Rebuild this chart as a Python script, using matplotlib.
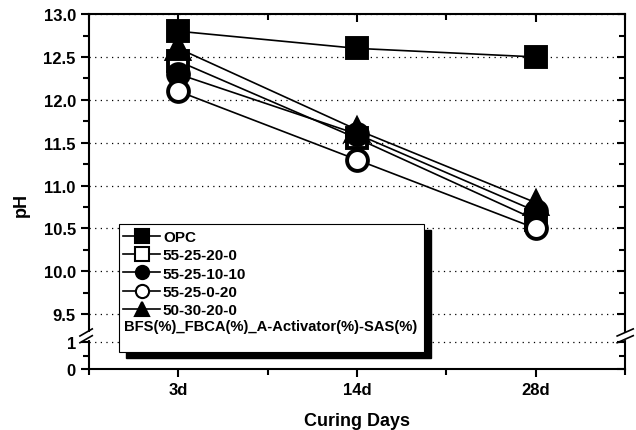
import matplotlib.pyplot as plt
import numpy as np
from matplotlib.lines import Line2D
from matplotlib.patches import Rectangle

plt.rcParams['font.family'] = ['Liberation Sans', 'DejaVu Sans']
plt.rcParams['font.weight'] = 'bold'

days = ['3d', '14d', '28d']
opc = [12.8, 12.6, 12.5]
s55_25_20_0 = [12.45, 11.55, 10.6]
s55_25_10_10 = [12.3, 11.6, 10.7]
s55_25_0_20 = [12.1, 11.3, 10.5]
s50_30_20_0 = [12.6, 11.65, 10.8]

yticks = [0, 1, 9.5, 10.0, 10.5, 11.0, 11.5, 12.0, 12.5, 13.0]
ytick_labels = ['0', '1', '9.5', '10.0', '10.5', '11.0', '11.5', '12.0', '12.5', '13.0']
yminor = [0.5, 9.75, 10.25, 10.75, 11.25, 11.75, 12.25, 12.75]

# broken y axis: 0..1 squeezed, gap, then 9.5..13
a = 0.314
g = 0.326

def fwd(y):
    y = np.asarray(y, dtype=float)
    return np.where(y <= 1, y * a,
                    np.where(y < 9.5, a + (y - 1) / 8.5 * g, a + g + (y - 9.5)))

def inv(v):
    v = np.asarray(v, dtype=float)
    return np.where(v <= a, v / a,
                    np.where(v < a + g, 1 + (v - a) / g * 8.5, v - a - g + 9.5))

fig = plt.figure(figsize=(6.36, 4.31), dpi=100)
ax = fig.add_axes([0.140, 0.1415, 0.843, 0.8235])
ax.set_yscale('function', functions=(fwd, inv))

x = np.arange(1, len(days) + 1)
series = [
    (opc, 's', 'k', 'OPC'),
    (s55_25_20_0, 's', 'w', '55-25-20-0'),
    (s55_25_10_10, 'o', 'k', '55-25-10-10'),
    (s55_25_0_20, 'o', 'w', '55-25-0-20'),
    (s50_30_20_0, '^', 'k', '50-30-20-0'),
]
handles = []
for vals, m, fc, lab in series:
    ms = 15 if m != '^' else 16
    ax.plot(x, vals, color='k', lw=1.2, marker=m, ms=ms, mfc=fc, mec='k', mew=2.8, zorder=3)
    handles.append(Line2D([], [], color='k', lw=1.2, marker=m, ms=9.5, mfc=fc, mec='k', mew=1.5))

ax.set_xlim(0.5, 3.5)
ax.set_ylim(0, 13)
ax.set_xticks(x)
ax.set_xticklabels(days)
ax.set_xticks([0.5, 1.5, 2.5, 3.5], minor=True)
ax.set_yticks(yticks)
ax.set_yticklabels(ytick_labels)
ax.set_yticks(yminor, minor=True)

ax.grid(axis='y', which='major', color='k', linestyle=(0, (1, 3.5)), lw=0.9)
for sp in ax.spines.values():
    sp.set_linewidth(1.5)
ax.tick_params(which='both', labelsize=12, width=1.5, top=True, right=True)
ax.tick_params(which='major', direction='out', length=6)
ax.tick_params(which='minor', direction='out', length=4)
for t in ax.xaxis.get_ticklines(minor=False)[1::2] + ax.xaxis.get_ticklines(minor=True)[1::2]:
    t.set_marker(3)
for t in ax.yaxis.get_ticklines(minor=False)[1::2] + ax.yaxis.get_ticklines(minor=True)[1::2]:
    t.set_marker(0)

ax.set_xlabel('Curing Days', fontsize=13, fontweight='bold', labelpad=11)
ax.set_ylabel('pH', fontsize=13, fontweight='bold')
ax.yaxis.set_label_coords(-0.11, 0.465)

# legend box with black shadow
ax.add_patch(Rectangle((0.069, 0.031), 0.569, 0.36, transform=ax.transAxes,
                       facecolor='k', edgecolor='k', zorder=5, clip_on=False))
ax.add_patch(Rectangle((0.056, 0.048), 0.569, 0.36, transform=ax.transAxes,
                       facecolor='w', edgecolor='k', lw=0.8, zorder=6, clip_on=False))
leg = ax.legend(handles, [s[3] for s in series], loc='upper left',
                bbox_to_anchor=(0.058, 0.40), frameon=False, fontsize=11,
                handlelength=2.4, handletextpad=0.2, labelspacing=0.28,
                borderpad=0.2, borderaxespad=0)
leg.set_zorder(7)
ax.text(0.066, 0.121, 'BFS(%)_FBCA(%)_A-Activator(%)-SAS(%)', transform=ax.transAxes,
        fontsize=10.6, fontweight='bold', va='center', ha='left', zorder=8)

# break marks
for xs in [(-0.017, 0.006), (0.985, 1.015)]:
    cx = 0 if xs[0] < 0 else 1
    ax.plot([cx, cx], [0.088, 0.1], transform=ax.transAxes, color='w', lw=3,
            clip_on=False, zorder=9)
    ax.plot(xs, [0.093, 0.113], transform=ax.transAxes, color='k', lw=1.2,
            clip_on=False, zorder=10)
    ax.plot(xs, [0.074, 0.094], transform=ax.transAxes, color='k', lw=1.2,
            clip_on=False, zorder=10)

fig.savefig('out.png', dpi=100)
